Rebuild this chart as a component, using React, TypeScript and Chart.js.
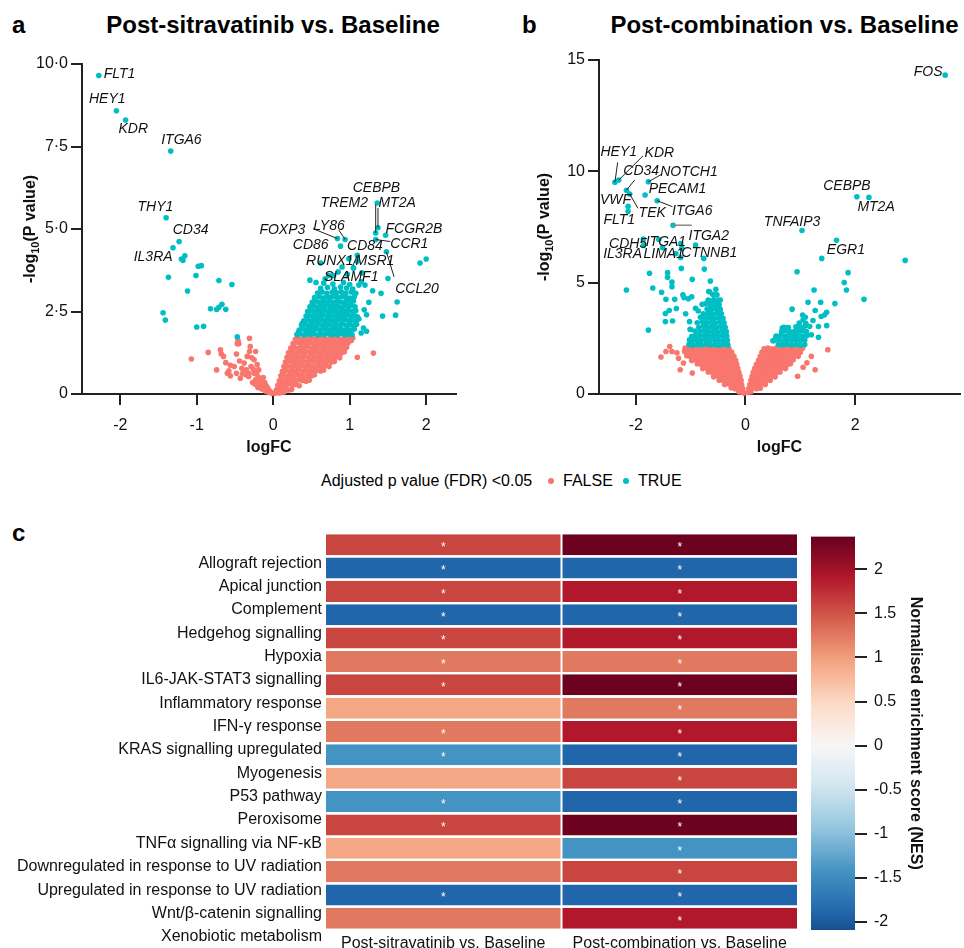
import React, { useEffect, useRef } from "react";
import { Chart, registerables } from "chart.js";
Chart.register(...registerables);

const FONT = '"Liberation Sans", Arial, Helvetica, sans-serif';
const RED = "#F8766D";
const CYAN = "#00BFC4";
const INK = "#111111";
const AXIS = "#222222";

type P = [number, number];

// ---------- Panel a: Post-sitravatinib vs. Baseline ----------
const A_FALSE: P[] = [
  [-1.07,1.06],[-0.85,1.26],[-0.74,0.73],[-0.69,1.34],[-0.68,1.22],[-0.65,1.14],[-0.56,0.87],[-0.51,0.83],[-0.48,1.21],[-0.46,1.62],[-0.45,1.52],[-0.47,1.52],[-0.31,1.69],[-0.30,1.44],[-0.31,1.29],[-0.34,1.14],[-0.23,1.29],[-0.25,1.04],[-0.60,0.63],[-0.56,0.55],[-0.48,0.63],[-0.41,0.78],[-0.38,0.94],[-0.35,0.73],[-0.32,0.53],[-0.29,0.83],[-0.25,0.63],[-0.21,0.89],[-0.19,0.73],[-0.20,0.53],[-0.17,0.38],[-0.12,0.28],[-0.10,0.18],[-0.08,0.11],[-0.06,0.05],[-0.14,0.23],[-0.19,0.33],[-0.23,0.43],[-0.27,0.35],[-0.32,0.63],[-0.36,0.58],[-0.43,0.48],[-0.62,0.95],[-0.58,0.70],[-0.44,1.00],[-0.40,0.62],[-0.28,1.10],[-0.26,0.75],[-0.22,0.62],[-0.16,0.45],[-0.13,0.50],[-0.11,0.35],[-0.09,0.25],[-0.07,0.17],[-0.05,0.10],[-0.03,0.05],[-0.02,0.02],[-0.15,0.15],[-0.20,0.20],[-0.24,0.30],[-0.10,0.08],
  [0.02,0.02],[0.05,0.04],[0.08,0.03],[0.11,0.05],[0.14,0.06],
  [0.04,0.12],[0.08,0.15],[0.12,0.13],[0.16,0.16],[0.20,0.12],[0.24,0.14],
  [0.06,0.26],[0.10,0.30],[0.14,0.27],[0.18,0.29],[0.22,0.31],[0.26,0.27],[0.30,0.29],[0.34,0.25],
  [0.08,0.40],[0.12,0.44],[0.16,0.41],[0.20,0.43],[0.25,0.45],[0.29,0.40],[0.33,0.43],[0.38,0.41],[0.43,0.39],[0.47,0.42],
  [0.10,0.55],[0.14,0.58],[0.19,0.54],[0.23,0.57],[0.27,0.55],[0.32,0.58],[0.36,0.56],[0.41,0.54],[0.45,0.57],[0.50,0.55],[0.54,0.58],
  [0.12,0.69],[0.16,0.72],[0.21,0.68],[0.25,0.71],[0.30,0.70],[0.34,0.73],[0.39,0.69],[0.43,0.72],[0.48,0.70],[0.52,0.68],[0.57,0.72],[0.62,0.70],[0.66,0.73],
  [0.14,0.83],[0.18,0.86],[0.23,0.82],[0.27,0.85],[0.32,0.84],[0.37,0.87],[0.41,0.83],[0.46,0.86],[0.50,0.84],[0.55,0.82],[0.60,0.86],[0.64,0.84],[0.69,0.87],[0.73,0.83],
  [0.16,0.97],[0.21,1.00],[0.25,0.96],[0.30,0.99],[0.35,0.98],[0.39,1.01],[0.44,0.97],[0.48,1.00],[0.53,0.98],[0.58,0.96],[0.62,1.00],[0.67,0.98],[0.72,1.01],[0.76,0.97],[0.80,0.99],
  [0.18,1.11],[0.23,1.14],[0.27,1.10],[0.32,1.13],[0.37,1.12],[0.41,1.15],[0.46,1.11],[0.50,1.14],[0.55,1.12],[0.60,1.10],[0.64,1.14],[0.69,1.12],[0.74,1.15],[0.78,1.11],[0.83,1.13],[0.87,1.10],
  [0.20,1.25],[0.25,1.28],[0.29,1.24],[0.34,1.27],[0.39,1.26],[0.43,1.29],[0.48,1.25],[0.52,1.28],[0.57,1.26],[0.62,1.24],[0.66,1.28],[0.71,1.26],[0.76,1.29],[0.80,1.25],[0.85,1.27],[0.89,1.24],[0.93,1.28],
  [0.23,1.39],[0.27,1.42],[0.32,1.38],[0.36,1.41],[0.41,1.40],[0.45,1.43],[0.50,1.39],[0.55,1.42],[0.59,1.40],[0.64,1.38],[0.68,1.42],[0.73,1.40],[0.78,1.43],[0.82,1.39],[0.87,1.41],[0.91,1.38],[0.96,1.42],
  [0.26,1.53],[0.30,1.56],[0.35,1.52],[0.39,1.55],[0.44,1.54],[0.48,1.57],[0.53,1.53],[0.57,1.56],[0.62,1.54],[0.66,1.52],[0.71,1.56],[0.75,1.54],[0.80,1.57],[0.84,1.53],[0.89,1.55],[0.93,1.52],[0.98,1.56],
  [0.29,1.66],[0.33,1.69],[0.38,1.65],[0.42,1.68],[0.47,1.67],[0.51,1.70],[0.56,1.66],[0.60,1.69],[0.65,1.67],[0.69,1.65],[0.74,1.69],[0.78,1.67],[0.83,1.70],[0.87,1.66],[0.92,1.68],[0.96,1.65],[1.00,1.69],
  [1.10,1.11],[1.31,1.24],[0.97,1.54],[1.02,1.62],[1.04,1.70]
];

const A_TRUE: P[] = [
  [-1.31,4.43],[-1.20,4.09],[-1.155,4.19],[-1.37,3.54],[-1.44,2.46],[-1.41,2.24],[-1.12,3.12],[-0.98,3.87],[-0.94,3.89],[-1.01,3.59],[-1.00,2.03],[-0.91,2.05],[-0.82,2.58],[-0.74,2.56],[-0.71,2.63],[-0.67,2.72],[-0.62,2.57],[-0.71,3.44],[-0.54,3.32],[-0.47,1.73],
  [0.31,1.80],[0.35,1.83],[0.40,1.79],[0.44,1.82],[0.49,1.80],[0.53,1.84],[0.58,1.79],[0.62,1.82],[0.67,1.80],[0.71,1.83],[0.76,1.79],[0.80,1.82],[0.85,1.80],[0.89,1.84],[0.94,1.79],[0.98,1.82],[1.03,1.80],
  [0.34,1.94],[0.39,1.97],[0.43,1.93],[0.48,1.96],[0.52,1.95],[0.57,1.98],[0.61,1.94],[0.66,1.97],[0.70,1.95],[0.75,1.93],[0.79,1.97],[0.84,1.95],[0.88,1.98],[0.93,1.94],[0.97,1.96],[1.02,1.93],[1.06,1.97],
  [0.37,2.08],[0.42,2.11],[0.46,2.07],[0.51,2.10],[0.55,2.09],[0.60,2.12],[0.64,2.08],[0.69,2.11],[0.73,2.09],[0.78,2.07],[0.82,2.11],[0.87,2.09],[0.91,2.12],[0.96,2.08],[1.00,2.10],[1.05,2.07],[1.09,2.11],
  [0.40,2.22],[0.45,2.25],[0.49,2.21],[0.54,2.24],[0.58,2.23],[0.63,2.26],[0.67,2.22],[0.72,2.25],[0.76,2.23],[0.81,2.21],[0.85,2.25],[0.90,2.23],[0.94,2.26],[0.99,2.22],[1.03,2.24],[1.08,2.21],[1.12,2.27],
  [0.43,2.36],[0.47,2.39],[0.52,2.35],[0.56,2.38],[0.61,2.37],[0.65,2.40],[0.70,2.36],[0.74,2.39],[0.79,2.37],[0.83,2.35],[0.88,2.39],[0.92,2.37],[0.97,2.40],[1.01,2.36],[1.06,2.38],[1.10,2.34],
  [0.45,2.50],[0.50,2.53],[0.54,2.49],[0.59,2.52],[0.63,2.51],[0.68,2.54],[0.72,2.50],[0.77,2.53],[0.81,2.51],[0.86,2.49],[0.90,2.53],[0.95,2.51],[0.99,2.54],[1.04,2.50],[1.08,2.52],
  [0.48,2.64],[0.53,2.67],[0.57,2.63],[0.62,2.66],[0.66,2.65],[0.71,2.68],[0.75,2.64],[0.80,2.67],[0.84,2.65],[0.89,2.63],[0.93,2.67],[0.98,2.65],[1.02,2.68],[1.07,2.64],
  [0.51,2.78],[0.56,2.81],[0.60,2.77],[0.65,2.80],[0.69,2.79],[0.74,2.82],[0.78,2.78],[0.83,2.81],[0.87,2.79],[0.92,2.77],[0.96,2.81],[1.01,2.79],[1.05,2.82],
  [0.54,2.92],[0.60,2.95],[0.65,2.91],[0.70,2.94],[0.75,2.93],[0.80,2.96],[0.85,2.92],[0.90,2.95],[0.95,2.93],[1.00,2.91],[1.06,2.95],
  [0.58,3.06],[0.64,3.09],[0.70,3.05],[0.77,3.08],[0.83,3.07],[0.89,3.10],[0.95,3.06],[1.02,3.09],[1.08,3.05],
  [0.62,3.20],[0.71,3.23],[0.80,3.19],[0.88,3.24],[0.96,3.21],[1.04,3.18],
  [0.66,3.36],[0.78,3.33],[0.92,3.38],[1.00,3.32],[1.12,3.30],
  [0.62,3.97],[0.48,3.45],[0.56,3.38],[0.68,3.49],[0.73,3.59],[0.79,3.59],[0.97,3.63],[1.16,3.67],[1.05,3.82],[1.11,2.29],[1.19,2.55],[1.25,2.78],[1.30,3.13],[1.41,3.05],[1.43,2.36],[1.60,2.39],[1.62,2.79],[1.50,3.50],[1.92,3.97],[2.00,4.09],[0.33,1.86],[0.38,2.14],[1.20,3.30],[1.15,3.40],[0.85,3.70],[0.90,3.85],[1.22,2.40],[1.18,2.00],[1.15,1.85],[1.22,1.90]
];

// labelled genes (logFC, -log10 P)
const A_GENES: { gene: string; x: number; y: number }[] = [
  { gene: "FLT1", x: -2.28, y: 9.65 }, { gene: "HEY1", x: -2.05, y: 8.58 }, { gene: "KDR", x: -1.93, y: 8.30 },
  { gene: "ITGA6", x: -1.34, y: 7.36 }, { gene: "THY1", x: -1.40, y: 5.34 }, { gene: "CD34", x: -1.23, y: 4.62 },
  { gene: "IL3RA", x: -1.18, y: 4.05 }, { gene: "FOXP3", x: 0.84, y: 4.71 }, { gene: "LY86", x: 0.94, y: 4.68 },
  { gene: "TREM2", x: 1.34, y: 4.88 }, { gene: "CEBPB", x: 1.36, y: 5.79 }, { gene: "MT2A", x: 1.37, y: 5.04 },
  { gene: "FCGR2B", x: 1.47, y: 4.81 }, { gene: "CCR1", x: 1.34, y: 4.68 }, { gene: "CD86", x: 0.88, y: 4.48 },
  { gene: "CD84", x: 0.99, y: 4.10 }, { gene: "RUNX1", x: 1.10, y: 4.20 }, { gene: "MSR1", x: 1.10, y: 4.02 },
  { gene: "SLAMF1", x: 1.05, y: 3.82 }, { gene: "CCL20", x: 1.48, y: 4.31 }
];
// label placement (text centre and optional leader-line start, data units)
const A_LABELS: { gene: string; tx: number; ty: number; line?: P }[] = [
  { gene: "FLT1", tx: -2.01, ty: 9.68 }, { gene: "HEY1", tx: -2.17, ty: 8.93 }, { gene: "KDR", tx: -1.83, ty: 8.04 },
  { gene: "ITGA6", tx: -1.20, ty: 7.69 }, { gene: "THY1", tx: -1.54, ty: 5.65 }, { gene: "CD34", tx: -1.08, ty: 4.96 },
  { gene: "IL3RA", tx: -1.57, ty: 4.14 }, { gene: "FOXP3", tx: 0.12, ty: 4.98, line: [0.52, 5.01] },
  { gene: "LY86", tx: 0.73, ty: 5.08, line: [0.86, 4.96] }, { gene: "TREM2", tx: 0.93, ty: 5.77, line: [1.34, 5.75] },
  { gene: "CEBPB", tx: 1.35, ty: 6.24 }, { gene: "MT2A", tx: 1.62, ty: 5.77, line: [1.37, 5.64] },
  { gene: "FCGR2B", tx: 1.84, ty: 5.01 }, { gene: "CCR1", tx: 1.78, ty: 4.54, line: [1.53, 4.62] },
  { gene: "CD86", tx: 0.49, ty: 4.51 }, { gene: "CD84", tx: 1.20, ty: 4.49 },
  { gene: "RUNX1", tx: 0.74, ty: 4.03, line: [1.04, 3.88] }, { gene: "MSR1", tx: 1.33, ty: 4.03 },
  { gene: "SLAMF1", tx: 1.02, ty: 3.55 }, { gene: "CCL20", tx: 1.88, ty: 3.17, line: [1.58, 3.55] }
];
const A_X_TICKS = [-2, -1, 0, 1, 2];
const A_Y_TICKS = [0, 2.5, 5, 7.5, 10];

// ---------- Panel b: Post-combination vs. Baseline ----------
const B_FALSE: P[] = [
  [-0.06,0.08],[-0.12,0.10],[-0.03,0.04],
  [-0.05,0.25],[-0.12,0.27],[-0.19,0.24],[-0.26,0.28],
  [-0.07,0.43],[-0.15,0.45],[-0.23,0.42],[-0.31,0.46],[-0.38,0.43],
  [-0.08,0.61],[-0.16,0.63],[-0.24,0.60],[-0.32,0.64],[-0.40,0.61],[-0.48,0.62],
  [-0.10,0.79],[-0.18,0.81],[-0.26,0.78],[-0.34,0.82],[-0.42,0.79],[-0.50,0.80],[-0.58,0.77],
  [-0.12,0.97],[-0.20,0.99],[-0.28,0.96],[-0.36,1.00],[-0.44,0.97],[-0.52,0.98],[-0.60,0.95],[-0.68,0.99],
  [-0.14,1.15],[-0.22,1.17],[-0.30,1.14],[-0.38,1.18],[-0.46,1.15],[-0.54,1.16],[-0.62,1.13],[-0.70,1.17],[-0.78,1.14],
  [-0.16,1.33],[-0.24,1.35],[-0.32,1.32],[-0.40,1.36],[-0.48,1.33],[-0.56,1.34],[-0.64,1.31],[-0.72,1.35],[-0.80,1.32],[-0.88,1.36],
  [-0.18,1.51],[-0.26,1.53],[-0.34,1.50],[-0.42,1.54],[-0.50,1.51],[-0.58,1.52],[-0.66,1.49],[-0.74,1.53],[-0.82,1.50],[-0.90,1.54],[-0.98,1.51],
  [-0.21,1.69],[-0.29,1.71],[-0.37,1.68],[-0.45,1.72],[-0.53,1.69],[-0.61,1.70],[-0.69,1.67],[-0.77,1.71],[-0.85,1.68],[-0.93,1.72],[-1.01,1.69],[-1.07,1.72],
  [-0.25,1.87],[-0.33,1.89],[-0.41,1.86],[-0.49,1.90],[-0.57,1.87],[-0.65,1.88],[-0.73,1.85],[-0.81,1.89],[-0.89,1.86],[-0.97,1.90],[-1.05,1.87],[-1.11,1.91],
  [-0.30,2.03],[-0.38,2.06],[-0.46,2.02],[-0.54,2.05],[-0.62,2.04],[-0.70,2.07],[-0.78,2.03],[-0.86,2.06],[-0.94,2.04],[-1.02,2.02],[-1.10,2.06],
  [-1.54,1.66],[-1.45,1.91],[-1.38,2.13],[-1.34,1.91],[-1.19,1.09],[-1.13,1.39],[-0.97,0.94],[-1.22,1.60],[-1.25,1.85],
  [0.04,0.07],[0.10,0.10],
  [0.06,0.25],[0.13,0.27],[0.20,0.24],[0.27,0.26],
  [0.08,0.43],[0.15,0.45],[0.22,0.42],[0.29,0.46],[0.36,0.43],
  [0.10,0.61],[0.17,0.63],[0.24,0.60],[0.31,0.64],[0.38,0.61],[0.45,0.62],
  [0.12,0.79],[0.19,0.81],[0.26,0.78],[0.33,0.82],[0.40,0.79],[0.47,0.80],[0.54,0.77],
  [0.14,0.97],[0.21,0.99],[0.28,0.96],[0.35,1.00],[0.42,0.97],[0.49,0.98],[0.56,0.95],[0.63,0.99],
  [0.17,1.15],[0.24,1.17],[0.31,1.14],[0.38,1.18],[0.45,1.15],[0.52,1.16],[0.59,1.13],[0.66,1.17],[0.73,1.14],
  [0.20,1.33],[0.27,1.35],[0.34,1.32],[0.41,1.36],[0.48,1.33],[0.55,1.34],[0.62,1.31],[0.69,1.35],[0.76,1.32],[0.82,1.36],
  [0.24,1.51],[0.31,1.53],[0.38,1.50],[0.45,1.54],[0.52,1.51],[0.59,1.52],[0.66,1.49],[0.73,1.53],[0.80,1.50],[0.87,1.54],
  [0.27,1.69],[0.34,1.71],[0.41,1.68],[0.48,1.72],[0.55,1.69],[0.62,1.70],[0.69,1.67],[0.76,1.71],[0.83,1.68],[0.90,1.72],[0.96,1.69],
  [0.30,1.87],[0.37,1.89],[0.44,1.86],[0.51,1.90],[0.58,1.87],[0.65,1.88],[0.72,1.85],[0.79,1.89],[0.86,1.86],[0.93,1.90],[1.00,1.87],
  [0.34,2.03],[0.41,2.06],[0.48,2.02],[0.55,2.05],[0.62,2.04],[0.69,2.07],[0.76,2.03],[0.83,2.06],[0.90,2.04],[0.97,2.02],[1.04,2.06],
  [1.50,1.99],[1.27,1.09],[1.20,1.69],[1.12,1.40],[0.95,0.80],[1.05,1.20]
];

const B_TRUE: P[] = [
  [-2.17,4.67],[-1.77,2.87],[-1.75,5.42],[-1.69,4.76],[-1.53,4.57],[-1.42,5.45],[-1.42,5.24],[-1.34,5.03],[-1.34,4.82],[-1.17,5.64],[-0.97,5.15],[-0.75,5.61],[-0.64,5.07],[-1.45,4.25],[-1.29,4.25],[-1.14,4.45],[-1.12,4.33],[-1.04,4.28],[-0.98,4.37],[-1.46,3.61],[-1.46,3.25],[-1.39,3.75],[-1.33,3.28],[-1.26,3.84],[-1.09,3.60],[-0.91,3.85],[-0.86,3.73],[-0.79,4.03],[-0.68,4.22],[-0.67,4.60],[-0.54,4.70],[-0.58,4.45],[-0.46,4.22],[-0.61,4.03],[-1.02,3.25],[-1.01,2.91],[-0.97,2.58],[-1.02,2.43],[-1.18,6.76],[-1.16,6.54],[-0.91,6.69],[-1.18,6.13],[-1.86,6.96],
  [-0.32,2.20],[-0.40,2.23],[-0.48,2.19],[-0.56,2.22],[-0.64,2.21],[-0.72,2.24],[-0.80,2.20],[-0.88,2.23],[-0.96,2.19],[-1.03,2.22],
  [-0.33,2.40],[-0.41,2.43],[-0.49,2.39],[-0.57,2.42],[-0.65,2.41],[-0.73,2.44],[-0.81,2.40],[-0.89,2.43],[-0.97,2.39],
  [-0.34,2.60],[-0.42,2.63],[-0.50,2.59],[-0.58,2.62],[-0.66,2.61],[-0.74,2.64],[-0.82,2.60],[-0.90,2.63],[-0.98,2.58],
  [-0.35,2.80],[-0.43,2.83],[-0.51,2.79],[-0.59,2.82],[-0.67,2.81],[-0.75,2.84],[-0.83,2.80],[-0.92,2.83],[-1.00,2.90],
  [-0.37,3.00],[-0.45,3.03],[-0.53,2.99],[-0.61,3.02],[-0.69,3.01],[-0.77,3.04],[-0.85,3.00],
  [-0.39,3.20],[-0.47,3.23],[-0.55,3.19],[-0.63,3.22],[-0.71,3.21],[-0.79,3.24],[-0.88,3.20],
  [-0.41,3.40],[-0.49,3.43],[-0.57,3.39],[-0.65,3.42],[-0.73,3.41],[-0.82,3.45],
  [-0.44,3.60],[-0.52,3.63],[-0.60,3.59],[-0.68,3.62],[-0.77,3.60],
  [-0.46,3.80],[-0.54,3.83],[-0.62,3.79],[-0.70,3.82],
  [-0.48,4.00],[-0.56,4.03],[-0.64,3.99],[-0.73,4.05],
  [-0.50,4.20],[-0.58,4.23],[-0.66,4.19],
  [-0.52,4.45],[-0.60,4.48],[-0.66,4.60],
  [0.60,2.22],[0.68,2.20],[0.76,2.24],[0.84,2.20],[0.92,2.23],[1.00,2.19],[1.08,2.22],
  [0.52,2.40],[0.60,2.43],[0.68,2.39],[0.76,2.42],[0.84,2.41],[0.92,2.44],[1.00,2.40],[1.08,2.43],
  [0.56,2.60],[0.64,2.63],[0.72,2.59],[0.80,2.62],[0.88,2.61],[0.96,2.64],[1.04,2.60],[1.12,2.63],
  [0.66,2.80],[0.74,2.83],[0.82,2.79],[0.90,2.82],[0.98,2.81],[1.06,2.84],
  [0.70,3.00],[0.78,2.98],[0.92,3.02],[1.00,3.00],[1.08,3.04],
  [1.66,6.90],[2.91,6.00],[0.94,5.49],[1.87,5.45],[1.80,5.01],[1.84,4.67],[2.16,4.25],[1.25,4.67],[1.63,4.06],[1.14,4.12],[1.37,4.12],[1.48,3.67],[1.44,3.55],[1.38,3.48],[1.48,3.07],[0.85,3.81],[1.04,3.55],[1.09,3.45],[1.05,3.33],[0.98,3.19],[1.10,3.18],[1.27,3.75],[1.23,3.30],[1.33,3.03],[1.20,2.66],[1.33,2.55],[0.67,2.96],[0.76,2.96],[0.50,2.39],[0.55,2.54],[1.17,3.03],[1.11,2.81]
];

const B_GENES: { gene: string; x: number; y: number }[] = [
  { gene: "FOS", x: 3.64, y: 14.32 }, { gene: "HEY1", x: -2.38, y: 9.51 }, { gene: "KDR", x: -2.31, y: 9.61 },
  { gene: "NOTCH1", x: -1.77, y: 9.53 }, { gene: "CD34", x: -2.17, y: 9.15 }, { gene: "TEK", x: -2.11, y: 8.98 },
  { gene: "PECAM1", x: -1.83, y: 8.94 }, { gene: "ITGA6", x: -1.61, y: 8.68 }, { gene: "VWF", x: -2.14, y: 8.43 },
  { gene: "FLT1", x: -2.14, y: 8.21 }, { gene: "ITGA2", x: -1.32, y: 7.58 }, { gene: "CDH5", x: -1.86, y: 6.67 },
  { gene: "ITGA1", x: -1.58, y: 6.94 }, { gene: "IL3RA", x: -1.51, y: 6.57 }, { gene: "LIMA1", x: -1.27, y: 6.31 },
  { gene: "CTNNB1", x: -0.76, y: 6.09 }, { gene: "TNFAIP3", x: 1.03, y: 7.34 }, { gene: "CEBPB", x: 2.03, y: 8.86 },
  { gene: "MT2A", x: 2.25, y: 8.83 }, { gene: "EGR1", x: 1.39, y: 6.09 }
];
const B_LABELS: { gene: string; tx: number; ty: number; line?: P; grey?: boolean }[] = [
  { gene: "FOS", tx: 3.33, ty: 14.47 }, { gene: "HEY1", tx: -2.31, ty: 10.85, line: [-2.33, 10.40] },
  { gene: "KDR", tx: -1.57, ty: 10.80, line: [-1.87, 10.69] }, { gene: "CD34", tx: -1.90, ty: 10.01, line: [-2.02, 9.61] },
  { gene: "NOTCH1", tx: -1.03, ty: 9.98, line: [-1.52, 9.88] }, { gene: "VWF", tx: -2.37, ty: 8.71 },
  { gene: "PECAM1", tx: -1.24, ty: 9.19 }, { gene: "FLT1", tx: -2.30, ty: 7.82 },
  { gene: "TEK", tx: -1.70, ty: 8.12, line: [-1.96, 8.34] }, { gene: "ITGA6", tx: -0.97, ty: 8.23, line: [-1.33, 8.41] },
  { gene: "ITGA2", tx: -0.67, ty: 7.11, line: [-0.98, 7.58], grey: true }, { gene: "CDH5", tx: -2.14, ty: 6.74 },
  { gene: "ITGA1", tx: -1.45, ty: 6.80 }, { gene: "IL3RA", tx: -2.24, ty: 6.28 }, { gene: "LIMA1", tx: -1.49, ty: 6.28 },
  { gene: "CTNNB1", tx: -0.66, ty: 6.32 }, { gene: "TNFAIP3", tx: 0.85, ty: 7.74 }, { gene: "CEBPB", tx: 1.85, ty: 9.34 },
  { gene: "MT2A", tx: 2.38, ty: 8.41 }, { gene: "EGR1", tx: 1.83, ty: 6.47 }
];
const B_X_TICKS = [-2, 0, 2];
const B_Y_TICKS = [0, 5, 10, 15];

// ---------- Panel c: Hallmark enrichment ----------
const PATHWAYS = [
  "Allograft rejection", "Apical junction", "Complement", "Hedgehog signalling", "Hypoxia",
  "IL6-JAK-STAT3 signalling", "Inflammatory response", "IFN-γ response", "KRAS signalling upregulated",
  "Myogenesis", "P53 pathway", "Peroxisome", "TNFα signalling via NF-κB",
  "Downregulated in response to UV radiation", "Upregulated in response to UV radiation",
  "Wnt/β-catenin signalling", "Xenobiotic metabolism"
];
const COMPARISONS = ["Post-sitravatinib vs. Baseline", "Post-combination vs. Baseline"];
const NES_SITRA = [1.6, -1.9, 1.6, -1.9, 1.6, 1.25, 1.6, 0.93, 1.25, -1.42, 0.93, -1.42, 1.6, 0.93, 1.25, -1.9, 1.25];
const NES_COMBO = [2.33, -1.9, 1.9, -1.9, 1.9, 1.25, 2.33, 1.25, 1.9, -1.9, 1.6, -1.9, 2.33, -1.42, 1.6, -1.9, 1.9];
const SIG_SITRA = [1, 1, 1, 1, 1, 1, 1, 0, 1, 1, 0, 1, 1, 0, 0, 1, 0];
const SIG_COMBO = [1, 1, 1, 1, 1, 1, 1, 1, 1, 1, 1, 1, 1, 1, 1, 1, 1];
const NES_RANGE: P = [-2.09, 2.37];
const NES_TICKS = [-2, -1.5, -1, -0.5, 0, 0.5, 1, 1.5, 2];

// ---------- colour map (RdBu reversed) ----------
const RDBU = ["#053061", "#2166ac", "#4393c3", "#92c5de", "#d1e5f0", "#f7f7f7", "#fddbc7", "#f4a582", "#d6604d", "#b2182b", "#67001f"];
const NES_LIMIT = 2.37;
function hexToRgb(h: string) {
  return [parseInt(h.slice(1, 3), 16), parseInt(h.slice(3, 5), 16), parseInt(h.slice(5, 7), 16)];
}
function nesColor(v: number) {
  let t = 0.5 + v / (2 * NES_LIMIT);
  t = Math.min(1, Math.max(0, t));
  const s = t * 10;
  const i = Math.min(9, Math.floor(s));
  const f = s - i;
  const a = hexToRgb(RDBU[i]);
  const b = hexToRgb(RDBU[i + 1]);
  const c = a.map((av, k) => Math.round(av + (b[k] - av) * f));
  return `rgb(${c[0]},${c[1]},${c[2]})`;
}

// ---------- plugins ----------
function geneLabelPlugin(genes: { gene: string; x: number; y: number }[], labels: any[]) {
  return {
    id: "geneLabels",
    afterDatasetsDraw(chart: any) {
      const { ctx, scales } = chart;
      const xs = scales.x, ys = scales.y;
      ctx.save();
      for (const L of labels) {
        const g = genes.find((q) => q.gene === L.gene);
        if (!g) continue;
        if (L.line) {
          ctx.beginPath();
          ctx.strokeStyle = L.grey ? "#888" : "#222";
          ctx.lineWidth = L.grey ? 1.5 : 1;
          ctx.moveTo(xs.getPixelForValue(L.line[0]), ys.getPixelForValue(L.line[1]));
          ctx.lineTo(xs.getPixelForValue(g.x), ys.getPixelForValue(g.y));
          ctx.stroke();
        }
      }
      ctx.font = `italic 14px ${FONT}`;
      ctx.fillStyle = INK;
      ctx.textAlign = "center";
      ctx.textBaseline = "middle";
      for (const L of labels) {
        ctx.fillText(L.gene, xs.getPixelForValue(L.tx), ys.getPixelForValue(L.ty));
      }
      ctx.restore();
    }
  };
}

function yTitlePlugin(xPos: number) {
  return {
    id: "yTitle",
    afterDraw(chart: any) {
      const { ctx, chartArea } = chart;
      const cy = (chartArea.top + chartArea.bottom) / 2;
      ctx.save();
      ctx.translate(xPos, cy);
      ctx.rotate(-Math.PI / 2);
      ctx.fillStyle = INK;
      ctx.textAlign = "left";
      ctx.textBaseline = "alphabetic";
      const big = `bold 16px ${FONT}`;
      const small = `bold 11px ${FONT}`;
      ctx.font = big;
      const w1 = ctx.measureText("-log").width;
      const w3 = ctx.measureText("(P value)").width;
      ctx.font = small;
      const w2 = ctx.measureText("10").width;
      let x0 = -(w1 + w2 + w3) / 2;
      const base = 6;
      ctx.font = big;
      ctx.fillText("-log", x0, base);
      x0 += w1;
      ctx.font = small;
      ctx.fillText("10", x0, base + 4);
      x0 += w2;
      ctx.font = big;
      ctx.fillText("(P value)", x0, base);
      ctx.restore();
    }
  };
}

const starPlugin = {
  id: "stars",
  afterDatasetsDraw(chart: any) {
    const { ctx } = chart;
    const sigs = [SIG_SITRA, SIG_COMBO];
    ctx.save();
    ctx.fillStyle = "#ffffff";
    ctx.font = `12px ${FONT}`;
    ctx.textAlign = "center";
    ctx.textBaseline = "middle";
    sigs.forEach((sig, di) => {
      const meta = chart.getDatasetMeta(di);
      meta.data.forEach((el: any, i: number) => {
        if (sig[i]) {
          const c = el.getCenterPoint();
          ctx.fillText("*", c.x, c.y + 3);
        }
      });
    });
    ctx.restore();
  }
};

// ---------- configs ----------
function volcanoConfig(o: {
  falsePts: P[]; truePts: P[]; genes: any[]; labels: any[];
  xMin: number; xMax: number; yMax: number; xTicks: number[]; yTicks: number[];
  yFmt: (v: number) => string; padTop: number; padRight: number; yWidth: number; xHeight: number; yTitleX: number;
}): any {
  const tickFont = { family: FONT, size: 16 };
  const allTrue = [...o.truePts, ...o.genes.map((g) => [g.x, g.y] as P)];
  return {
    type: "scatter",
    data: {
      datasets: [
        { label: "TRUE", data: allTrue.map(([x, y]) => ({ x, y })), backgroundColor: CYAN, pointRadius: 2.8, borderWidth: 0, clip: 6 },
        { label: "FALSE", data: o.falsePts.map(([x, y]) => ({ x, y })), backgroundColor: RED, pointRadius: 2.8, borderWidth: 0, clip: 6 }
      ]
    },
    options: {
      animation: false,
      responsive: false,
      layout: { padding: { top: o.padTop, right: o.padRight, left: 0, bottom: 0 } },
      plugins: { legend: { display: false }, tooltip: { enabled: false } },
      scales: {
        x: {
          type: "linear", min: o.xMin, max: o.xMax,
          afterBuildTicks: (s: any) => { s.ticks = o.xTicks.map((v) => ({ value: v })); },
          afterFit: (s: any) => { s.height = o.xHeight; },
          grid: { display: true, drawOnChartArea: false, drawTicks: true, tickLength: 11, color: AXIS, lineWidth: 2 },
          border: { display: true, color: AXIS, width: 2 },
          ticks: { color: INK, font: tickFont, padding: 11, maxRotation: 0, autoSkip: false, callback: (v: any) => String(v) },
          title: { display: true, text: "logFC", color: INK, font: { family: FONT, size: 16, weight: "bold" }, padding: { top: 0, bottom: 8 } }
        },
        y: {
          type: "linear", min: 0, max: o.yMax,
          afterBuildTicks: (s: any) => { s.ticks = o.yTicks.map((v) => ({ value: v })); },
          afterFit: (s: any) => { s.width = o.yWidth; },
          grid: { display: true, drawOnChartArea: false, drawTicks: true, tickLength: 11, color: AXIS, lineWidth: 2 },
          border: { display: true, color: AXIS, width: 2 },
          ticks: { color: INK, font: tickFont, padding: 3, autoSkip: false, callback: (v: any) => o.yFmt(Number(v)) }
        }
      }
    },
    plugins: [geneLabelPlugin(o.genes, o.labels), yTitlePlugin(o.yTitleX)]
  };
}

function heatmapConfig(): any {
  const nes = [NES_SITRA, NES_COMBO];
  return {
    type: "bar",
    data: {
      labels: PATHWAYS,
      datasets: COMPARISONS.map((c, ci) => ({
        label: c,
        data: PATHWAYS.map(() => [ci, ci + 1]),
        backgroundColor: nes[ci].map(nesColor),
        borderColor: "rgba(255,255,255,0.9)",
        borderWidth: { left: 1, right: 1, top: 0, bottom: 0 },
        borderSkipped: false,
        grouped: false,
        barPercentage: 0.9,
        categoryPercentage: 1
      }))
    },
    options: {
      indexAxis: "y",
      animation: false,
      responsive: false,
      layout: { padding: { top: 13, right: 2, left: 0, bottom: 0 } },
      plugins: { legend: { display: false }, tooltip: { enabled: false } },
      scales: {
        y: {
          type: "category",
          afterFit: (s: any) => { s.width = 325; },
          grid: { display: false, drawTicks: false },
          border: { display: false },
          ticks: { color: INK, font: { family: FONT, size: 16 }, padding: 3, labelOffset: 18.5, autoSkip: false }
        },
        x: {
          type: "linear", min: 0, max: 2,
          afterBuildTicks: (s: any) => { s.ticks = COMPARISONS.map((_, i) => ({ value: i + 0.5 })); },
          afterFit: (s: any) => { s.height = 18; },
          grid: { display: false, drawTicks: false },
          border: { display: false },
          ticks: { color: INK, font: { family: FONT, size: 16 }, padding: 4, maxRotation: 0, autoSkip: false,
            callback: (v: any) => COMPARISONS[Math.floor(Number(v))] }
        }
      }
    },
    plugins: [starPlugin]
  };
}

function colorbarConfig(): any {
  const [lo, hi] = NES_RANGE;
  return {
    type: "bar",
    data: {
      labels: [""],
      datasets: [{
        data: [[lo, hi]],
        backgroundColor: (ctx: any) => {
          const chart = ctx.chart;
          const ca = chart.chartArea;
          if (!ca) return "transparent";
          const ys = chart.scales.y;
          const g = chart.ctx.createLinearGradient(0, ys.getPixelForValue(lo), 0, ys.getPixelForValue(hi));
          const n = 60;
          for (let j = 0; j <= n; j++) {
            const pos = j / n;
            g.addColorStop(pos, nesColor(lo + pos * (hi - lo)));
          }
          return g;
        },
        borderWidth: 0,
        barPercentage: 1,
        categoryPercentage: 1
      }]
    },
    options: {
      animation: false,
      responsive: false,
      layout: { padding: { top: 13, left: 11, right: 0, bottom: 18 } },
      plugins: { legend: { display: false }, tooltip: { enabled: false } },
      scales: {
        x: { display: false },
        y: {
          type: "linear", position: "right", min: lo, max: hi,
          afterBuildTicks: (s: any) => { s.ticks = NES_TICKS.map((v) => ({ value: v })); },
          afterFit: (s: any) => { s.width = 109; },
          grid: { display: true, drawOnChartArea: false, drawTicks: true, tickLength: 12, color: AXIS, lineWidth: 2 },
          border: { display: false },
          ticks: { color: INK, font: { family: FONT, size: 16 }, padding: 7, autoSkip: false, callback: (v: any) => String(v) },
          title: { display: true, text: "Normalised enrichment score (NES)", color: INK,
            font: { family: FONT, size: 16, weight: "bold" }, padding: { top: 39, bottom: 0 } }
        }
      }
    }
  };
}

const fmtA = (v: number) => (v === 0 ? "0" : v.toFixed(1).replace(".", "\u00B7"));
const fmtB = (v: number) => String(v);

export default function App() {
  const aRef = useRef<HTMLCanvasElement>(null);
  const bRef = useRef<HTMLCanvasElement>(null);
  const cRef = useRef<HTMLCanvasElement>(null);
  const dRef = useRef<HTMLCanvasElement>(null);

  useEffect(() => {
    const charts = [
      new Chart(aRef.current!, volcanoConfig({
        falsePts: A_FALSE, truePts: A_TRUE, genes: A_GENES, labels: A_LABELS,
        xMin: -2.5, xMax: 2.39, yMax: 10, xTicks: A_X_TICKS, yTicks: A_Y_TICKS, yFmt: fmtA,
        padTop: 24, padRight: 19, yWidth: 82, xHeight: 71, yTitleX: 29
      })),
      new Chart(bRef.current!, volcanoConfig({
        falsePts: B_FALSE, truePts: B_TRUE, genes: B_GENES, labels: B_LABELS,
        xMin: -2.67, xMax: 3.91, yMax: 15, xTicks: B_X_TICKS, yTicks: B_Y_TICKS, yFmt: fmtB,
        padTop: 20, padRight: 0, yWidth: 99, xHeight: 71, yTitleX: 43
      })),
      new Chart(cRef.current!, heatmapConfig()),
      new Chart(dRef.current!, colorbarConfig())
    ];
    return () => charts.forEach((c) => c.destroy());
  }, []);

  const abs = (l: number, t: number, extra: React.CSSProperties = {}): React.CSSProperties => ({
    position: "absolute", left: l, top: t, ...extra
  });
  const titleStyle: React.CSSProperties = { fontWeight: "bold", fontSize: 24, lineHeight: "24px", textAlign: "center", color: "#000", whiteSpace: "nowrap" };
  const dot = (c: string): React.CSSProperties => ({ width: 6, height: 6, borderRadius: 3, background: c });

  return (
    <div style={{ position: "absolute", left: 0, top: 0, width: 964, height: 948, overflow: "hidden", background: "#fff", fontFamily: FONT, color: "#000" }}>
      <div style={abs(12, 13, { ...titleStyle, textAlign: "left" })}>a</div>
      <div style={abs(73, 13, { ...titleStyle, width: 400 })}>{"Post-sitravatinib vs. Baseline"}</div>
      <div style={abs(522, 13, { ...titleStyle, textAlign: "left" })}>b</div>
      <div style={abs(605, 13, { ...titleStyle, width: 359 })}>{"Post-combination vs. Baseline"}</div>
      <div style={abs(12, 521, { ...titleStyle, textAlign: "left" })}>c</div>

      <canvas ref={aRef} width={475} height={425} style={abs(0, 40, { width: 475, height: 425 })} />
      <canvas ref={bRef} width={464} height={425} style={abs(500, 40, { width: 464, height: 425 })} />

      <div style={abs(321, 473, { fontSize: 16, lineHeight: "16px", whiteSpace: "nowrap" })}>{"Adjusted p value (FDR) <0.05"}</div>
      <div style={abs(548, 478, dot(RED))} />
      <div style={abs(563, 473, { fontSize: 16, lineHeight: "16px" })}>FALSE</div>
      <div style={abs(623, 478, dot(CYAN))} />
      <div style={abs(638, 473, { fontSize: 16, lineHeight: "16px" })}>TRUE</div>

      <canvas ref={cRef} width={800} height={428} style={abs(0, 520, { width: 800, height: 428 })} />
      <canvas ref={dRef} width={164} height={428} style={abs(800, 520, { width: 164, height: 428 })} />
    </div>
  );
}
